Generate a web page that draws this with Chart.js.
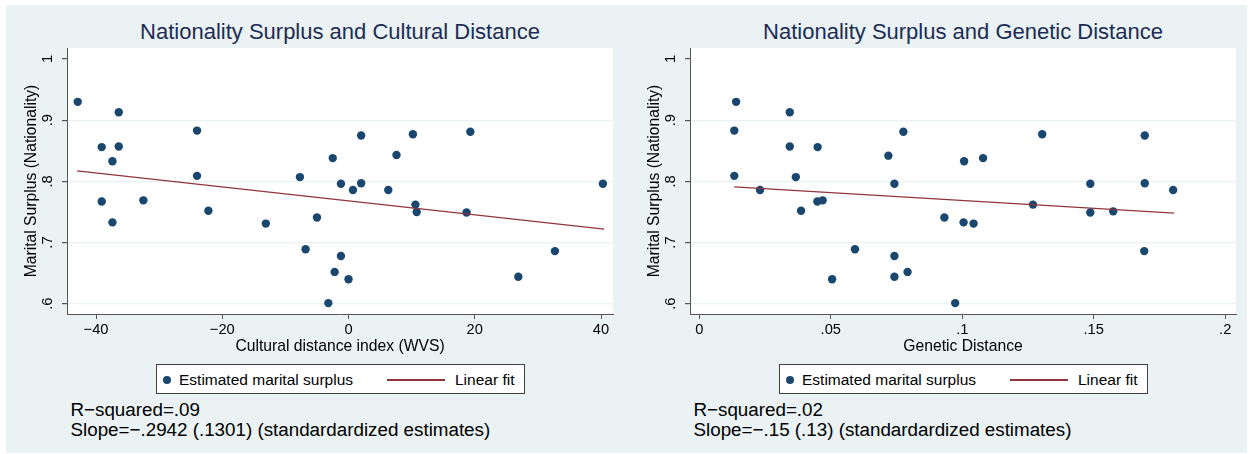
<!DOCTYPE html>
<html><head><meta charset="utf-8">
<script src="https://cdn.jsdelivr.net/npm/chart.js@4.4.1/dist/chart.umd.min.js"></script>
<style>
html,body{margin:0;padding:0;background:#fff;}
body{width:1250px;height:454px;position:relative;overflow:hidden;font-family:"Liberation Sans",Arial,sans-serif;}
#bg{position:absolute;left:6px;top:5px;width:1241px;height:448px;background:#eaf2f3;}
.title{position:absolute;width:600px;text-align:center;font-size:22px;line-height:26px;color:#1c2c54;top:19px;white-space:nowrap;}
canvas{position:absolute;top:40px;}
.legend{position:absolute;top:364px;width:367px;height:28px;border:1px solid #404040;background:#fff;}
.legend .dot{position:absolute;left:5.7px;top:11px;width:8px;height:8px;border-radius:50%;background:#1a476f;}
.legend .t{position:absolute;top:5.6px;font-size:15.5px;line-height:18px;color:#000;white-space:nowrap;}
.legend .ln{position:absolute;left:229.7px;top:14.4px;width:58.6px;height:1.3px;background:#90353b;}
.note{position:absolute;top:400px;font-size:18.8px;line-height:20px;color:#000;white-space:nowrap;}
</style></head>
<body>
<div id="bg"></div>
<div class="title" style="left:40px">Nationality Surplus and Cultural Distance</div>
<div class="title" style="left:663px">Nationality Surplus and Genetic Distance</div>
<canvas id="c1" width="620" height="320" style="left:6px"></canvas>
<canvas id="c2" width="620" height="320" style="left:629px"></canvas>
<div class="legend" style="left:156px"><div class="dot"></div><div class="t" style="left:22px">Estimated marital surplus</div><div class="ln"></div><div class="t" style="left:298px">Linear fit</div></div>
<div class="legend" style="left:779px"><div class="dot"></div><div class="t" style="left:22px">Estimated marital surplus</div><div class="ln"></div><div class="t" style="left:298px">Linear fit</div></div>
<div class="note" style="left:70.5px">R−squared=.09<br>Slope=−.2942 (.1301) (standardardized estimates)</div>
<div class="note" style="left:693.5px">R−squared=.02<br>Slope=−.15 (.13) (standardardized estimates)</div>
<script>
// ---- Data ----
const culturalDistance = [-42.9,-36.4,-39.1,-36.4,-37.4,-24.0,-24.0,-39.1,-32.5,-37.4,-22.2,-13.1,-7.7,-5.0,-6.8,
  2.0,10.2,19.3,-2.5,7.6,-1.2,0.7,2.0,6.3,10.6,10.8,18.7,40.3,-1.2,-2.2,0.0,-3.2,26.9,32.7];
const surplusCultural = [0.930,0.913,0.856,0.857,0.833,0.883,0.809,0.767,0.769,0.733,0.752,0.731,0.807,0.741,0.689,
  0.875,0.877,0.881,0.838,0.843,0.796,0.786,0.797,0.786,0.762,0.750,0.749,0.796,0.678,0.652,0.640,0.601,0.644,0.686];
const geneticDistance = [0.0140,0.0133,0.0133,0.0344,0.0344,0.0450,0.0367,0.0231,0.0387,0.0449,0.0469,0.0592,0.0505,
  0.0719,0.0776,0.0742,0.0742,0.0742,0.0792,0.0932,0.1007,0.1079,0.1005,0.1043,0.0973,0.1304,0.1269,0.1487,0.1487,
  0.1574,0.1694,0.1694,0.1692,0.1802];
const surplusGenetic = [0.930,0.883,0.809,0.913,0.857,0.856,0.807,0.786,0.752,0.767,0.769,0.689,0.640,
  0.842,0.881,0.796,0.678,0.644,0.652,0.741,0.833,0.838,0.733,0.731,0.601,0.877,0.762,0.796,0.749,
  0.751,0.875,0.797,0.686,0.786];
const fitCulturalX = [-43.0, 40.5];
const fitCulturalY = [0.817, 0.722];
const fitGeneticX = [0.0133, 0.1806];
const fitGeneticY = [0.791, 0.748];
const yTicks = [0.6, 0.7, 0.8, 0.9, 1.0];
const yTickLabels = ['.6', '.7', '.8', '.9', '1'];
const xTicksCultural = [-40, -20, 0, 20, 40];
const xTickLabelsCultural = ['−40', '−20', '0', '20', '40'];
const xTicksGenetic = [0, 0.05, 0.1, 0.15, 0.2];
const xTickLabelsGenetic = ['0', '.05', '.1', '.15', '.2'];

const FAM = '"Liberation Sans", Arial, sans-serif';
const whiteArea = {
  id: 'whiteArea',
  beforeDraw(chart) {
    const a = chart.chartArea, ctx = chart.ctx;
    ctx.save(); ctx.fillStyle = '#ffffff';
    ctx.fillRect(a.left, a.top, a.right - a.left, a.bottom - a.top);
    ctx.restore();
  }
};
function noPad(s) { s.paddingTop = 0; s.paddingBottom = 0; s.paddingLeft = 0; s.paddingRight = 0; }

function makeChart(id, xs, ys, fx, fy, xMin, xMax, xTicks, xLabels, xTitle) {
  return new Chart(document.getElementById(id), {
    type: 'scatter',
    data: { datasets: [
      { type: 'line', label: 'Linear fit', data: fx.map((x, i) => ({x: x, y: fy[i]})),
        borderColor: '#90353b', borderWidth: 1.3, pointRadius: 0, fill: false, tension: 0, order: 1 },
      { label: 'Estimated marital surplus', data: xs.map((x, i) => ({x: x, y: ys[i]})),
        backgroundColor: '#1a476f', borderWidth: 0, pointRadius: 4.2, order: 2 }
    ]},
    options: {
      responsive: false, animation: false, devicePixelRatio: 1,
      layout: { padding: { top: 8, right: 13, left: 0, bottom: 0 } },
      plugins: { legend: { display: false }, tooltip: { enabled: false } },
      scales: {
        x: {
          type: 'linear', min: xMin, max: xMax,
          afterBuildTicks: s => { s.ticks = xTicks.map(v => ({value: v})); },
          afterFit: s => { s.height = 46; noPad(s); },
          ticks: { autoSkip: false, maxRotation: 0, minRotation: 0, padding: 2, color: '#000',
                   font: { family: FAM, size: 14.7 }, callback: (v, i) => xLabels[i] },
          grid: { drawOnChartArea: false, drawTicks: true, tickLength: 5, tickColor: '#555', lineWidth: 1 },
          border: { color: '#555', width: 1 },
          title: { display: true, text: xTitle, color: '#000', font: { family: FAM, size: 15.7 },
                   padding: { top: 0, bottom: 3.6 } }
        },
        y: {
          type: 'linear', min: 0.5832, max: 1.018,
          afterBuildTicks: s => { s.ticks = yTicks.map(v => ({value: v})); },
          afterFit: s => { s.width = 61; noPad(s); },
          ticks: { autoSkip: false, minRotation: 90, maxRotation: 90, crossAlign: 'center', padding: 7.9,
                   color: '#000', font: { family: FAM, size: 14.7 }, callback: (v, i) => yTickLabels[i] },
          grid: { color: c => (c.tick && c.tick.value === 1) ? 'rgba(0,0,0,0)' : '#eaf2f3',
                  lineWidth: 1.2, tickLength: 5, tickColor: '#555' },
          border: { color: '#555', width: 1 },
          title: { display: true, text: 'Marital Surplus (Nationality)', color: '#000',
                   font: { family: FAM, size: 15.7 }, padding: { top: 16.6, bottom: 0 } }
        }
      }
    },
    plugins: [whiteArea]
  });
}

makeChart('c1', culturalDistance, surplusCultural, fitCulturalX, fitCulturalY, -44.6, 41.9,
  xTicksCultural, xTickLabelsCultural, 'Cultural distance index (WVS)');
makeChart('c2', geneticDistance, surplusGenetic, fitGeneticX, fitGeneticY, -0.00354, 0.2041,
  xTicksGenetic, xTickLabelsGenetic, 'Genetic Distance');
</script>
</body></html>
